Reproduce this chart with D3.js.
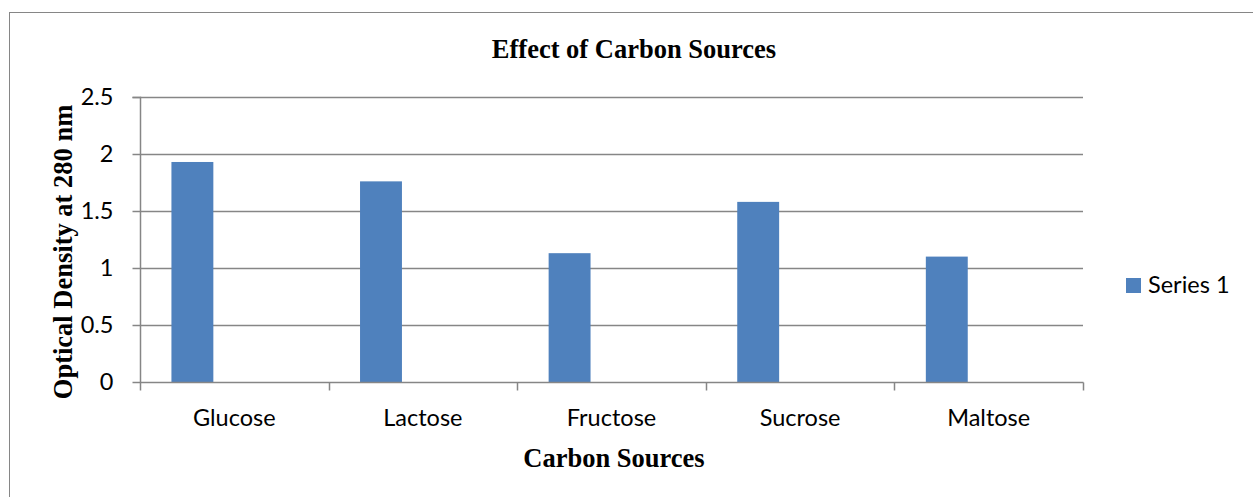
<!DOCTYPE html>
<html>
<head>
<meta charset="utf-8">
<script src="https://cdn.jsdelivr.net/npm/d3@7"></script>
<style>
  html, body { margin: 0; padding: 0; background: #fff; }
  svg { display: block; }
</style>
</head>
<body>
<svg id="chart" width="1253" height="497"></svg>
<script>
// Carbon source screening: optical density of the culture at 280 nm
const categories = ["Glucose", "Lactose", "Fructose", "Sucrose", "Maltose"];
const seriesName = "Series 1";
const seriesValues = [1.93, 1.76, 1.13, 1.58, 1.10];
const yTicks = [0, 0.5, 1, 1.5, 2, 2.5];
const yTickLabels = ["0", "0.5", "1", "1.5", "2", "2.5"];

const svg = d3.select("#chart");
const W = 1253, H = 497;

const plot = { left: 140, right: 1083, top: 97, bottom: 382 };
const gridColor = "#868686";
const barColor = "#4f81bd";
const labelFont = "Lato, 'Open Sans', sans-serif";
const labelSize = 23.5;
const serifFont = "'Liberation Serif', 'Times New Roman', serif";
const serifSize = 26.5;

// chart frame
svg.append("rect")
  .attr("x", 9.5).attr("y", 12.5)
  .attr("width", W + 20).attr("height", H + 20)
  .attr("fill", "#fff").attr("stroke", "#868686").attr("stroke-width", 1);

const x = d3.scaleBand().domain(categories).range([plot.left, plot.right]).paddingInner(0).paddingOuter(0);
const y = d3.scaleLinear().domain([0, 2.5]).range([plot.bottom, plot.top]);

// horizontal gridlines
svg.append("g")
  .selectAll("line")
  .data(yTicks.filter(d => d > 0))
  .join("line")
  .attr("x1", plot.left).attr("x2", plot.right)
  .attr("y1", d => Math.round(y(d)) + 0.5).attr("y2", d => Math.round(y(d)) + 0.5)
  .attr("stroke", gridColor).attr("stroke-width", 1.5);

// bars: clustered slot layout, gap width 150%, three slots per category
const slot = x.bandwidth() / 4.5;
svg.append("g")
  .selectAll("rect")
  .data(categories.map((c, i) => ({ c, v: seriesValues[i] })))
  .join("rect")
  .attr("x", d => x(d.c) + slot * 0.75)
  .attr("width", slot)
  .attr("y", d => y(d.v))
  .attr("height", d => y(0) - y(d.v))
  .attr("fill", barColor);

// y axis
const yAxis = d3.axisLeft(y)
  .tickValues(yTicks)
  .tickFormat((d, i) => yTickLabels[i])
  .tickSize(8)
  .tickPadding(19);
const gy = svg.append("g")
  .attr("transform", `translate(${plot.left + 0.5},0)`)
  .call(yAxis);
gy.select(".domain").attr("stroke", gridColor).attr("stroke-width", 1.5).attr("d", `M-8,${plot.top + 0.5}H0V${plot.bottom + 0.5}`);
gy.selectAll(".tick line").attr("stroke", gridColor).attr("stroke-width", 1.5);
gy.selectAll(".tick text")
  .attr("font-family", labelFont).attr("font-size", labelSize).attr("fill", "#000");

// x axis with tick marks at category boundaries
const gx = svg.append("g")
  .attr("transform", `translate(0,${plot.bottom + 0.5})`);
gx.append("line")
  .attr("x1", plot.left).attr("x2", plot.right + 0.5)
  .attr("stroke", gridColor).attr("stroke-width", 1.5);
const boundaries = categories.map(c => x(c)).concat([x(categories[categories.length - 1]) + x.bandwidth()]);
gx.selectAll("line.tick")
  .data(boundaries)
  .join("line")
  .attr("class", "tick")
  .attr("x1", d => Math.round(d) + 0.5).attr("x2", d => Math.round(d) + 0.5)
  .attr("y1", 0).attr("y2", 8)
  .attr("stroke", gridColor).attr("stroke-width", 1.5);
gx.selectAll("text")
  .data(categories)
  .join("text")
  .attr("x", d => x(d) + x.bandwidth() / 2)
  .attr("y", 43)
  .attr("text-anchor", "middle")
  .attr("font-family", labelFont).attr("font-size", labelSize).attr("fill", "#000")
  .text(d => d);

// title
svg.append("text")
  .attr("x", 634).attr("y", 58)
  .attr("text-anchor", "middle")
  .attr("font-family", serifFont).attr("font-weight", "bold").attr("font-size", serifSize)
  .text("Effect of Carbon Sources");

// axis titles
svg.append("text")
  .attr("x", 614).attr("y", 467)
  .attr("text-anchor", "middle")
  .attr("font-family", serifFont).attr("font-weight", "bold").attr("font-size", serifSize)
  .text("Carbon Sources");

svg.append("text")
  .attr("transform", "translate(72,252) rotate(-90)")
  .attr("text-anchor", "middle")
  .attr("font-family", serifFont).attr("font-weight", "bold").attr("font-size", serifSize)
  .text("Optical Density at 280 nm");

// legend
const lg = svg.append("g").attr("transform", "translate(1126,278)");
lg.append("rect").attr("width", 15).attr("height", 15).attr("fill", barColor);
lg.append("text")
  .attr("x", 22).attr("y", 15)
  .attr("font-family", labelFont).attr("font-size", labelSize).attr("fill", "#000")
  .text(seriesName);
</script>
</body>
</html>
